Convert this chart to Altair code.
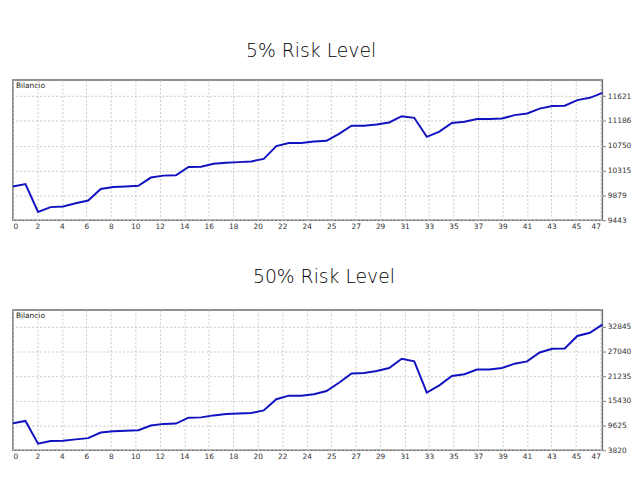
import altair as alt
import pandas as pd

# Trade number (x) and account balance after each trade (y)
trades = list(range(48))

balance_5 = [10036, 10077, 9587, 9673, 9685, 9742, 9789, 9991, 10026, 10036,
             10048, 10192, 10226, 10233, 10377, 10382, 10434, 10451, 10463, 10475,
             10520, 10745, 10797, 10797, 10826, 10838, 10959, 11103, 11103, 11125,
             11160, 11270, 11241, 10907, 10999, 11149, 11172, 11219, 11219, 11229,
             11288, 11316, 11402, 11449, 11454, 11552, 11592, 11679]

balance_50 = [10159, 10716, 5376, 5979, 6072, 6374, 6676, 8000, 8301, 8394,
              8533, 9625, 10020, 10089, 11483, 11552, 12017, 12341, 12481, 12573,
              13178, 15825, 16661, 16661, 16986, 17752, 19679, 21862, 22002, 22466,
              23163, 25345, 24718, 17357, 19075, 21305, 21699, 22791, 22791, 23163,
              24184, 24718, 26808, 27667, 27737, 30685, 31451, 33379]

titles = ["5% Risk Level", "50% Risk Level"]
series_label = "Bilancio"

y_ticks_5 = [9443, 9879, 10315, 10750, 11186, 11621]
y_ticks_50 = [3820, 9625, 15430, 21235, 27040, 32845]
y_domain_5 = [9443, 11905]
y_domain_50 = [3820, 36790]

x_tick_labels = [0, 2, 4, 6, 8, 10, 12, 14, 16, 18, 20, 22, 24,
                 25, 27, 29, 31, 33, 35, 37, 39, 41, 43, 45, 47]

# MT4-style grid: one vertical grid line every 25 px of a 602 px wide plot spanning 47 trades
GRID_STEP = 25 * 47 / 602
x_tick_values = [k * GRID_STEP for k in range(len(x_tick_labels))]
label_expr = ("[" + ",".join("'%d'" % v for v in x_tick_labels) + "]"
              + "[round(datum.value / %.6f)]" % GRID_STEP)

AXIS_FONT = "DejaVu Sans"
AXIS_SIZE = 7.5
PLOT_W = 597
PLOT_H = 142


def panel(values, domain, ticks, title, title_offset, title_dx):
    df = pd.DataFrame({"trade": trades, "balance": values})
    line = alt.Chart(df).mark_line(color="#1212c0", strokeWidth=2).encode(
        x=alt.X("trade:Q",
                scale=alt.Scale(domain=[0, 47], nice=False, zero=False),
                axis=alt.Axis(values=x_tick_values, labelExpr=label_expr, title=None,
                              grid=True, gridColor="#c8c8c8", gridDash=[2, 2],
                              domain=False, ticks=False, labelPadding=2,
                              labelFlush=3, labelOverlap=False,
                              labelFont=AXIS_FONT, labelFontSize=AXIS_SIZE,
                              labelColor="#333333")),
        y=alt.Y("balance:Q",
                scale=alt.Scale(domain=domain, nice=False, zero=False),
                axis=alt.Axis(orient="right", values=ticks, format="d", title=None,
                              grid=True, gridColor="#c8c8c8", gridDash=[2, 2],
                              domain=False, ticks=True, tickSize=3, tickColor="#777777",
                              labelPadding=2, labelOverlap=False,
                              labelFont=AXIS_FONT, labelFontSize=AXIS_SIZE,
                              labelColor="#333333")),
    )
    lab = alt.Chart(pd.DataFrame({"t": [series_label]})).mark_text(
        align="left", baseline="middle", font=AXIS_FONT, fontSize=AXIS_SIZE,
        color="#222222").encode(x=alt.value(3), y=alt.value(6), text="t:N")
    return alt.layer(line, lab).properties(
        width=PLOT_W, height=PLOT_H,
        title=alt.TitleParams(title, font="DejaVu Sans", fontSize=19,
                              fontWeight=300, color="#000000",
                              anchor="middle", offset=title_offset, dx=title_dx),
    )


chart = alt.vconcat(
    panel(balance_5, y_domain_5, y_ticks_5, titles[0], 19, 3.5),
    panel(balance_50, y_domain_50, y_ticks_50, titles[1], 23, 16.5),
    spacing=37,
).configure(
    padding={"left": 0, "top": 31, "right": 0, "bottom": 0},
    background="white",
).configure_view(stroke="#6e6e6e", strokeWidth=1.5)

chart.save("out.html", embed_options={"renderer": "svg", "actions": False})
